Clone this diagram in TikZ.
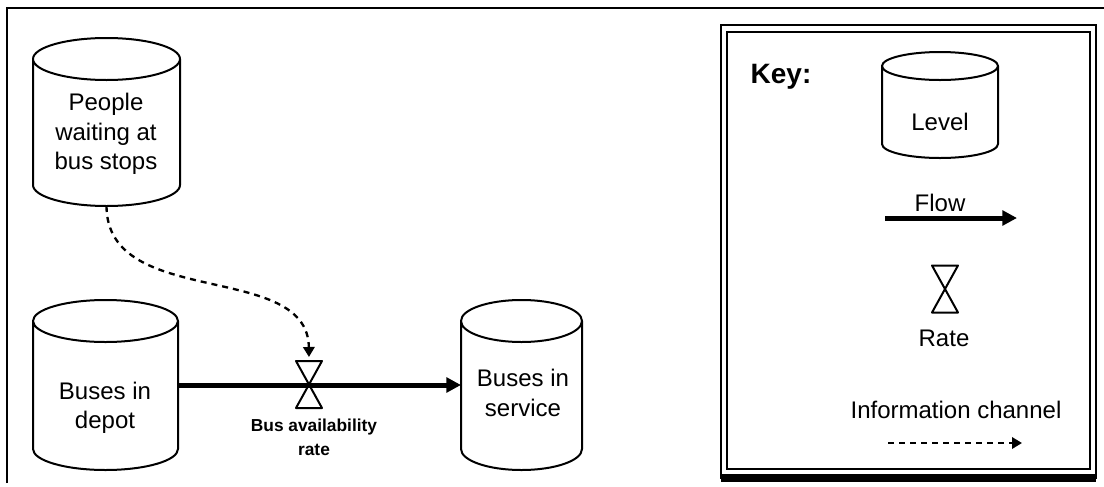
\documentclass[tikz,border=0pt]{standalone}
\usepackage{fontspec}
\setmainfont{Liberation Sans}
\usetikzlibrary{arrows.meta}
\tikzset{
  cylline/.style={line width=1.5pt, line join=round},
  cylbody/.style={draw=none, inner sep=0pt, outer sep=0pt, rectangle},
  lbl/.style={font=\fontsize{18}{22}\selectfont, align=center, inner sep=0pt},
  smalllbl/.style={font=\bfseries\fontsize{13}{18}\selectfont, align=center, inner sep=0pt},
  hourglass/.style={draw=none, inner sep=0pt, outer sep=0pt, minimum width=19.5pt, minimum height=35.25pt},
  hgline/.style={line width=1.5pt, line join=round},
  flowarrow/.style={line width=3.75pt, -{Triangle[length=11pt,width=11pt]}},
  infoarrow/.style={line width=1.75pt, dash pattern=on 4.5pt off 3.75pt, -{Triangle[length=7.5pt,width=8.5pt]}},
  frameline/.style={line width=1.5pt}
}
\begin{document}
\begin{tikzpicture}[x=0.75pt, y=0.75pt]
\useasboundingbox (0,0) rectangle (1104,-486);
% outer frame
\draw[frameline] (7,-483) -- (7,-8) -- (1104,-8);

% People waiting cylinder
\node[cylbody, minimum width=110.25pt, minimum height=126pt] (people) at (106.5,-122) {};
\draw[cylline] (33,-59) -- (33,-185) arc[start angle=180,end angle=360,x radius=73.5,y radius=21] -- (180,-59) arc[start angle=0,end angle=360,x radius=73.5,y radius=21];
\node[lbl] (peopletext) at (106,-134) {People\\waiting at\\bus stops};

% Buses in depot
\node[cylbody, minimum width=108.75pt, minimum height=127.5pt] (depot) at (105.5,-385) {};
\draw[cylline] (33,-321) -- (33,-449) arc[start angle=180,end angle=360,x radius=72.5,y radius=21] -- (178,-321) arc[start angle=0,end angle=360,x radius=72.5,y radius=21];
\node[lbl] (depottext) at (105,-408) {Buses in\\depot};

% Buses in service
\node[cylbody, minimum width=90.75pt, minimum height=127.5pt] (service) at (521.5,-385) {};
\draw[cylline] (461,-321) -- (461,-449) arc[start angle=180,end angle=360,x radius=60.5,y radius=21] -- (582,-321) arc[start angle=0,end angle=360,x radius=60.5,y radius=21];
\node[lbl] (servicetext) at (523,-393) {Buses in\\service};

% rate
\node[hourglass] (rate) at (309,-384.5) {};
\draw[flowarrow] (depot.east) -- (service.west);
\draw[hgline] (rate.north west) -- (rate.north east) -- (rate.center) -- (rate.south east) -- (rate.south west) -- (rate.center) -- cycle;
\node[smalllbl] (ratetext) at (314,-437) {Bus availability\\rate};

% information channel
\draw[infoarrow, shorten >=3pt] (people.south) .. controls (107,-310) and (308,-260) .. (rate.north);

% Key box
\draw[line width=2pt] (721,-25) rectangle (1096,-478);
\draw[line width=1.5pt] (727,-32) rectangle (1090,-469);
\draw[line width=6pt] (721,-478) -- (1096,-478);
\node[font=\bfseries\fontsize{21}{25}\selectfont, inner sep=0pt] (keytitle) at (781,-77) {Key:};

\node[cylbody, minimum width=87pt, minimum height=79.5pt] (level) at (940,-105) {};
\draw[cylline] (882,-66) -- (882,-144) arc[start angle=180,end angle=360,x radius=58,y radius=14] -- (998,-66) arc[start angle=0,end angle=360,x radius=58,y radius=14];
\node[lbl] (leveltext) at (940,-122) {Level};

\coordinate (kf1) at (885,-218);
\coordinate (kf2) at (1017,-218);
\draw[flowarrow] (kf1) -- (kf2);
\node[lbl] (flowtext) at (940,-203) {Flow};

\node[hourglass] (krate) at (945,-289) {};
\draw[hgline] (krate.north west) -- (krate.north east) -- (krate.center) -- (krate.south east) -- (krate.south west) -- (krate.center) -- cycle;
\node[lbl] (kratetext) at (944,-338) {Rate};

\node[lbl] (infotext) at (956,-410) {Information channel};
\coordinate (ki1) at (888,-443);
\coordinate (ki2) at (1022,-443);
\draw[infoarrow] (ki1) -- (ki2);
\end{tikzpicture}
\end{document}
